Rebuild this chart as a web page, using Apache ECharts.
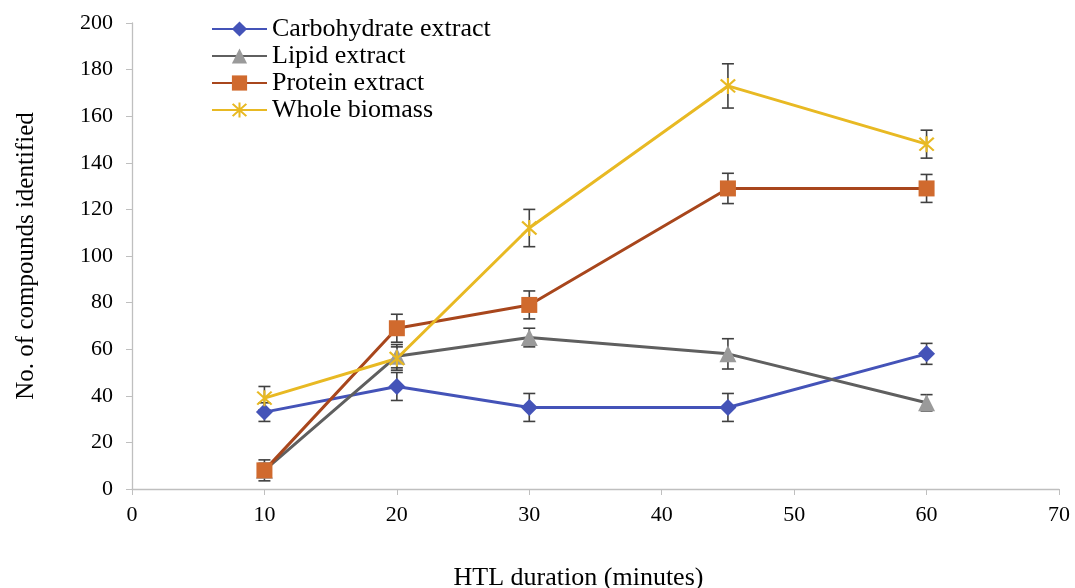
<!DOCTYPE html>
<html>
<head>
<meta charset="utf-8">
<script src="https://cdn.jsdelivr.net/npm/echarts@6/dist/echarts.min.js"></script>
<style>html,body{margin:0;padding:0;background:#fff}#chart{width:1075px;height:588px}</style>
</head>
<body>
<div id="chart"></div>
<script>
const durations = [10, 20, 30, 45, 60];
const carbohydrate = [33, 44, 35, 35, 58];
const carbohydrateErr = [4, 6, 6, 6, 4.5];
const lipid = [8, 57, 65, 58, 37];
const lipidErr = [3, 5, 4, 6.5, 3.5];
const protein = [8, 69, 79, 129, 129];
const proteinErr = [4.5, 6, 6, 6.5, 6];
const whole = [39, 56, 112, 173, 148];
const wholeErr = [5, 5, 8, 9.5, 6];
const xTicks = [0, 10, 20, 30, 40, 50, 60, 70];
const yTicks = [0, 20, 40, 60, 80, 100, 120, 140, 160, 180, 200];

const FONT = '"Liberation Serif", "DejaVu Serif", serif';
const asterisk = 'path://M4.4,0 L5.6,0 L5.6,10 L4.4,10 Z M0.5,1.4 L1.4,0.5 L9.5,8.6 L8.6,9.5 Z M8.6,0.5 L9.5,1.4 L1.4,9.5 L0.5,8.6 Z';

function pairs(vals) { return durations.map((d, i) => [d, vals[i]]); }
function errData(vals, errs) { return durations.map((d, i) => [d, vals[i] - errs[i], vals[i] + errs[i]]); }

function errorSeries(name, vals, errs) {
  return {
    type: 'custom',
    name: name + ' err',
    z: 1,
    silent: true,
    data: errData(vals, errs),
    renderItem: function (params, api) {
      const x = api.value(0);
      const lo = api.coord([x, api.value(1)]);
      const hi = api.coord([x, api.value(2)]);
      const hw = 6;
      const style = { stroke: '#404040', lineWidth: 1.6 };
      return {
        type: 'group',
        children: [
          { type: 'line', shape: { x1: lo[0], y1: lo[1], x2: hi[0], y2: hi[1] }, style: style },
          { type: 'line', shape: { x1: lo[0] - hw, y1: lo[1], x2: lo[0] + hw, y2: lo[1] }, style: style },
          { type: 'line', shape: { x1: hi[0] - hw, y1: hi[1], x2: hi[0] + hw, y2: hi[1] }, style: style }
        ]
      };
    }
  };
}

const chart = echarts.init(document.getElementById('chart'), null, { renderer: 'canvas' });
chart.setOption({
  animation: false,
  backgroundColor: '#fff',
  textStyle: { fontFamily: FONT },
  grid: { left: 132, right: 16, top: 23, bottom: 99, containLabel: false, outerBoundsMode: 'none' },
  legend: {
    orient: 'vertical',
    left: 206,
    top: 11,
    itemWidth: 55,
    itemHeight: 19,
    itemGap: 1,
    textStyle: { fontFamily: FONT, fontSize: 26, color: '#000', padding: [0, 0, 0, 0] },
    data: ['Carbohydrate extract', 'Lipid extract', 'Protein extract', 'Whole biomass']
  },
  xAxis: {
    type: 'value',
    min: 0, max: 70, interval: 10,
    name: 'HTL duration (minutes)',
    nameLocation: 'middle',
    nameGap: 76,
    nameTextStyle: { fontFamily: FONT, fontSize: 26, color: '#000', padding: [0, 34, 0, 0] },
    axisLine: { onZero: false, lineStyle: { color: '#bfbfbf', width: 1.3 } },
    axisTick: { show: true, inside: false, length: 6, lineStyle: { color: '#bfbfbf' } },
    axisLabel: { fontFamily: FONT, fontSize: 22, color: '#000', margin: 15 },
    splitLine: { show: false }
  },
  yAxis: {
    type: 'value',
    min: 0, max: 200, interval: 20,
    name: 'No. of compounds identified',
    nameLocation: 'middle',
    nameGap: 93,
    nameRotate: 90,
    nameTextStyle: { fontFamily: FONT, fontSize: 25, color: '#000' },
    axisLine: { show: true, lineStyle: { color: '#bfbfbf', width: 1.3 } },
    axisTick: { show: true, inside: false, length: 6, lineStyle: { color: '#bfbfbf' } },
    axisLabel: { fontFamily: FONT, fontSize: 22, color: '#000', margin: 19 },
    splitLine: { show: false }
  },
  series: [
    errorSeries('Carbohydrate extract', carbohydrate, carbohydrateErr),
    errorSeries('Lipid extract', lipid, lipidErr),
    errorSeries('Protein extract', protein, proteinErr),
    errorSeries('Whole biomass', whole, wholeErr),
    {
      name: 'Carbohydrate extract', type: 'line', z: 3, data: pairs(carbohydrate),
      symbol: 'diamond', symbolSize: 17,
      lineStyle: { color: '#4453B8', width: 3 },
      itemStyle: { color: '#4453B8' }
    },
    {
      name: 'Lipid extract', type: 'line', z: 3, data: pairs(lipid),
      symbol: 'triangle', symbolSize: 17,
      lineStyle: { color: '#5f5f5f', width: 3 },
      itemStyle: { color: '#9a9a9a' }
    },
    {
      name: 'Protein extract', type: 'line', z: 3, data: pairs(protein),
      symbol: 'rect', symbolSize: 16,
      lineStyle: { color: '#A8461C', width: 3 },
      itemStyle: { color: '#D06A2E' }
    },
    {
      name: 'Whole biomass', type: 'line', z: 3, data: pairs(whole),
      symbol: asterisk, symbolSize: 16,
      lineStyle: { color: '#E8B923', width: 3 },
      itemStyle: { color: '#E8B923' }
    }
  ]
});
</script>
</body>
</html>
